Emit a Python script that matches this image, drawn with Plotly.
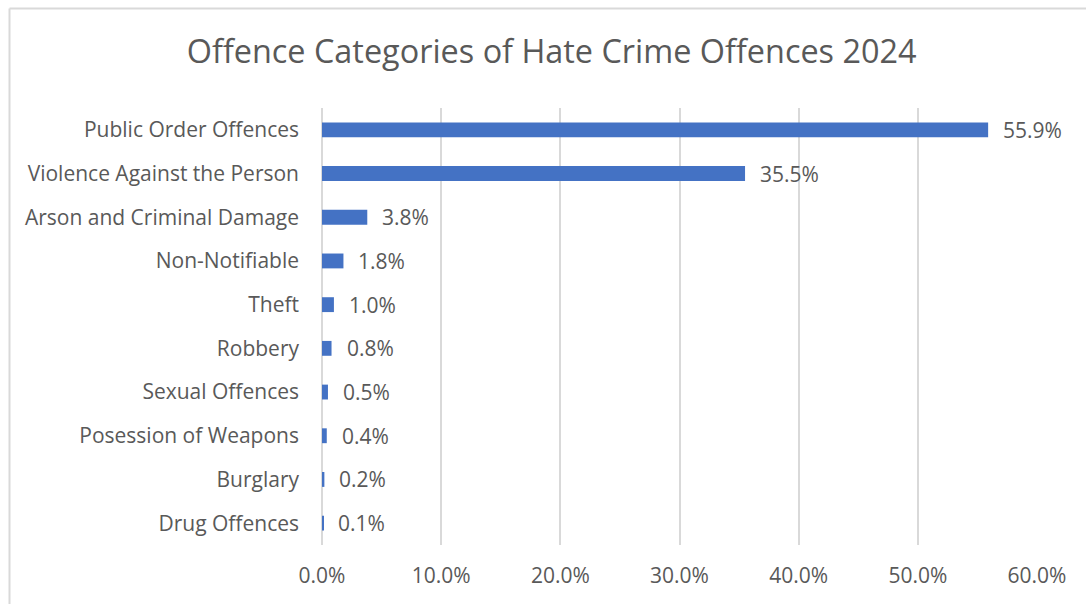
import plotly.graph_objects as go

categories = ["Public Order Offences", "Violence Against the Person", "Arson and Criminal Damage",
              "Non-Notifiable", "Theft", "Robbery", "Sexual Offences", "Posession of Weapons",
              "Burglary", "Drug Offences"]
values = [55.9, 35.5, 3.8, 1.8, 1.0, 0.8, 0.5, 0.4, 0.2, 0.1]
tick_vals = [0, 10, 20, 30, 40, 50, 60]
tick_text = ["0.0%", "10.0%", "20.0%", "30.0%", "40.0%", "50.0%", "60.0%"]

FONT = "Open Sans"
GREY = "#595959"

fig = go.Figure(go.Bar(
    x=values, y=categories, orientation="h",
    marker=dict(color="#4472c4", line=dict(width=0)),
    width=0.34, hoverinfo="skip",
))

annotations = [
    dict(x=v, y=c, xref="x", yref="y", text=f"{v:.1f}%", showarrow=False,
         xanchor="left", xshift=13, font=dict(family=FONT, size=21, color=GREY))
    for c, v in zip(categories, values)
]

fig.update_layout(
    width=1086, height=604,
    margin=dict(l=322, r=49, t=108, b=59),
    paper_bgcolor="white", plot_bgcolor="white",
    title=dict(text="Offence Categories of Hate Crime Offences 2024", x=0.508, xanchor="center",
               y=1 - 52 / 604, yanchor="middle",
               font=dict(family=FONT, size=32.4, color=GREY)),
    xaxis=dict(range=[0, 60], tickvals=tick_vals, ticktext=tick_text,
               showgrid=True, gridcolor="#d9d9d9", gridwidth=2, zeroline=True,
               zerolinecolor="#d9d9d9", zerolinewidth=2,
               tickfont=dict(family=FONT, size=21, color=GREY), ticklabelstandoff=16),
    yaxis=dict(categoryorder="array", categoryarray=categories[::-1], showgrid=False,
               tickfont=dict(family=FONT, size=21, color=GREY), ticklabelstandoff=22,
               range=[-0.5, 9.5]),
    annotations=annotations,
    showlegend=False,
    shapes=[
        dict(type="line", xref="paper", yref="paper", x0=(9.5 - 322) / 715, x1=1.2,
             y0=(545 - 8.5) / 437, y1=(545 - 8.5) / 437, line=dict(color="#d9d9d9", width=2)),
        dict(type="line", xref="paper", yref="paper", x0=(9.5 - 322) / 715, x1=(9.5 - 322) / 715,
             y0=(545 - 8.5) / 437, y1=-0.3, line=dict(color="#d9d9d9", width=2)),
    ],
)

fig.write_html("out.html")
